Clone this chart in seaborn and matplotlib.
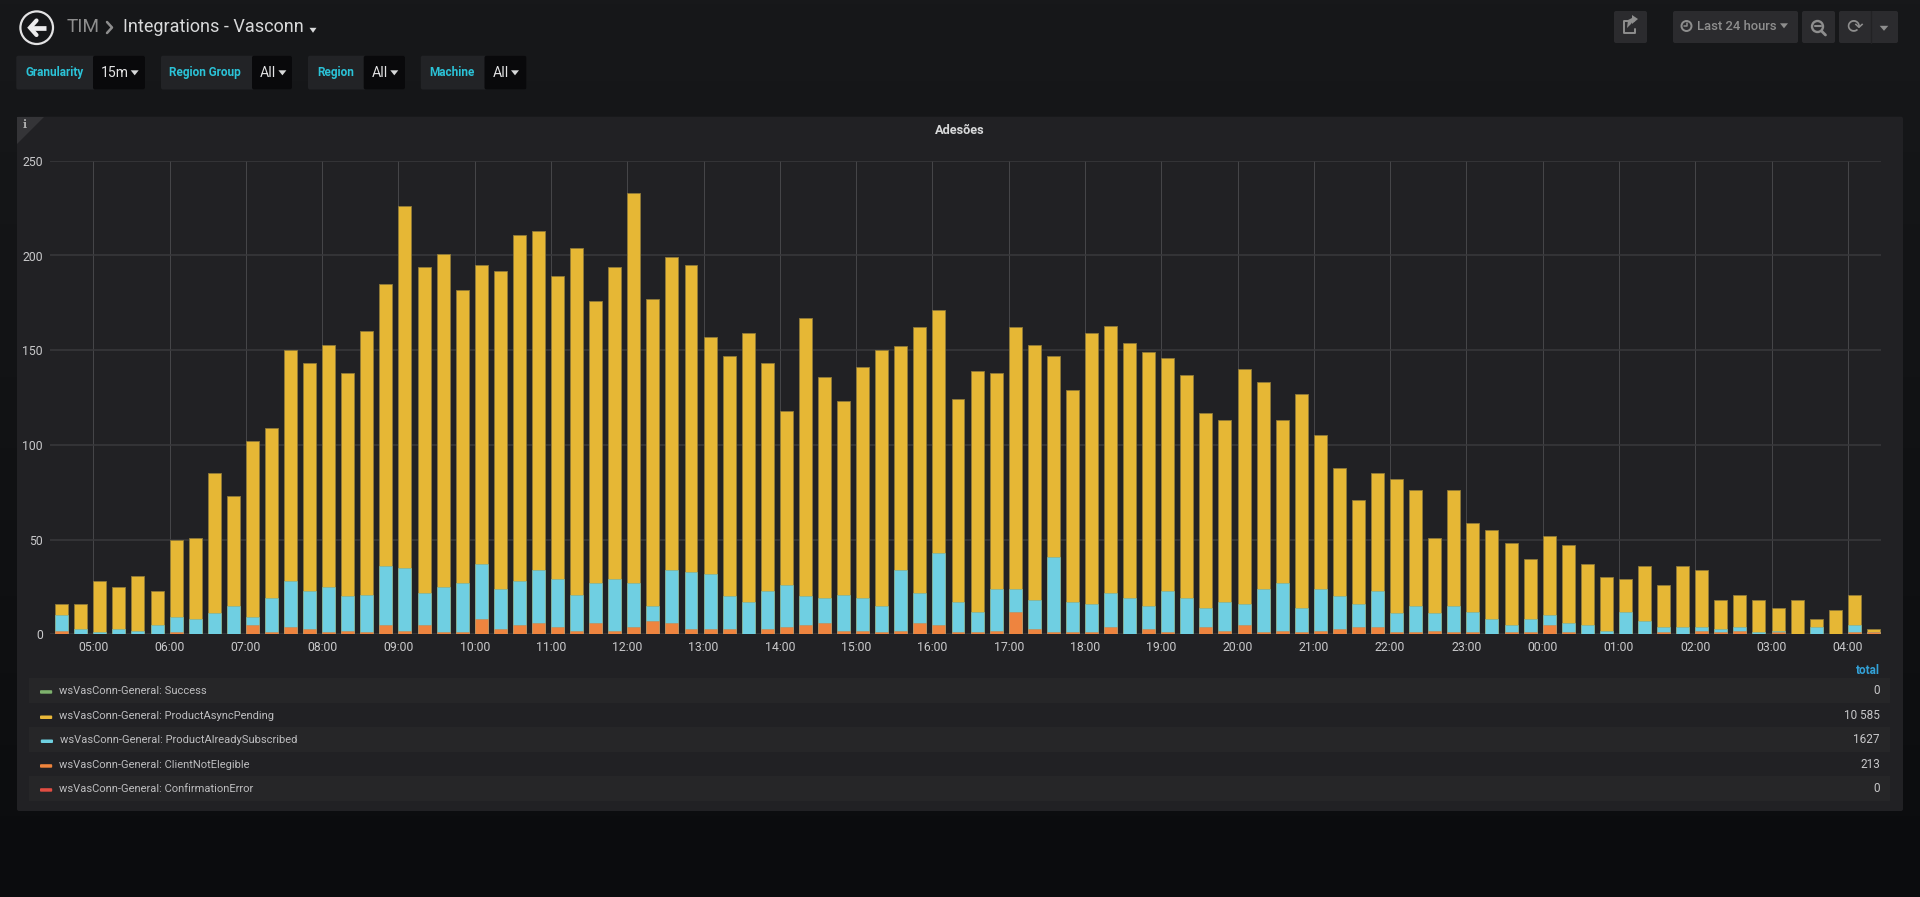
import numpy as np
import pandas as pd
import seaborn as sns
import matplotlib
matplotlib.use('Agg')
import matplotlib.pyplot as plt
from matplotlib.patches import Circle, FancyBboxPatch, Polygon, Rectangle

# Hauteurs (haut de chaque couche de la pile), toutes les 15 min
total_top = [16, 16, 28, 25, 31, 23, 50, 51, 85, 73, 102, 109, 150, 143, 153, 138,
             160, 185, 226, 194, 201, 182, 195, 192, 211, 213, 189, 204, 176, 194, 233, 177,
             199, 195, 157, 147, 159, 143, 118, 167, 136, 123, 141, 150, 152, 162, 171, 124,
             139, 138, 162, 153, 147, 129, 159, 163, 154, 149, 146, 137, 117, 113, 140, 133,
             113, 127, 105, 88, 71, 85, 82, 76, 51, 76, 59, 55, 48, 40, 52, 47,
             37, 30, 29, 36, 26, 36, 34, 18, 21, 18, 14, 18, 8, 13, 21, 3]
subscribed_top = [10, 3, 1, 3, 2, 5, 9, 8, 11, 15, 9, 19, 28, 23, 25, 20,
                  21, 36, 35, 22, 25, 27, 37, 24, 28, 34, 29, 21, 27, 29, 27, 15,
                  34, 33, 32, 20, 17, 23, 26, 20, 19, 21, 19, 15, 34, 22, 43, 17,
                  12, 24, 24, 18, 41, 17, 16, 22, 19, 15, 23, 19, 14, 17, 16, 24,
                  27, 14, 24, 20, 16, 23, 11, 15, 11, 15, 12, 8, 5, 8, 10, 6,
                  5, 2, 12, 7, 4, 4, 4, 3, 4, 1, 2, 0, 4, 0, 5, 1]
not_eligible = [2, 0, 0, 0, 0, 0, 1, 0, 0, 0, 5, 1, 4, 3, 1, 2,
                1, 5, 2, 5, 1, 1, 8, 3, 5, 6, 4, 2, 6, 2, 4, 7,
                6, 3, 3, 3, 0, 3, 4, 5, 6, 2, 2, 1, 2, 6, 5, 1,
                1, 2, 12, 3, 1, 1, 1, 4, 0, 3, 1, 0, 4, 2, 5, 1,
                2, 1, 2, 3, 4, 4, 1, 1, 2, 1, 1, 0, 1, 1, 5, 1,
                0, 0, 0, 0, 1, 0, 2, 1, 2, 0, 1, 0, 0, 0, 1, 1]

hour_labels = ['05:00', '06:00', '07:00', '08:00', '09:00', '10:00', '11:00', '12:00',
               '13:00', '14:00', '15:00', '16:00', '17:00', '18:00', '19:00', '20:00',
               '21:00', '22:00', '23:00', '00:00', '01:00', '02:00', '03:00', '04:00']
y_ticks = [0, 50, 100, 150, 200, 250]

legend_names = ['wsVasConn-General: Success', 'wsVasConn-General: ProductAsyncPending',
                'wsVasConn-General: ProductAlreadySubscribed', 'wsVasConn-General: ClientNotElegible',
                'wsVasConn-General: ConfirmationError']
legend_totals = ['0', '10 585', '1627', '213', '0']
legend_colors = ['#7EB26D', '#EAB839', '#6ED0E0', '#EF843C', '#E24D42']

W, H = 1920, 897
PANEL = '#212124'
FONT = 'Roboto'

df = pd.DataFrame({'slot': np.arange(len(total_top)), 'total': total_top,
                   'subscribed': subscribed_top, 'eligible': not_eligible})

sns.set_theme(style='dark')
plt.rcParams['font.family'] = [FONT, 'DejaVu Sans']

fig = plt.figure(figsize=(W / 100, H / 100), dpi=100)

# Couche interface en coordonnées pixel
ui = fig.add_axes([0, 0, 1, 1], zorder=0)
ui.set_xlim(0, W)
ui.set_ylim(H, 0)
ui.axis('off')
ui.imshow(np.linspace(0, 1, 200).reshape(-1, 1), extent=(0, W, H, 0), aspect='auto',
          cmap=matplotlib.colors.LinearSegmentedColormap.from_list('bg', ['#17181a', '#0b0c0e']))


def box(x0, y0, x1, y1, color, rad=2):
    ui.add_patch(FancyBboxPatch((x0 + rad, y0 + rad), x1 - x0 - 2 * rad, y1 - y0 - 2 * rad,
                                boxstyle=f'round,pad={rad},rounding_size={rad}',
                                fc=color, ec='none'))


def caret(x, y, w=4.5, color='#d8d9da'):
    ui.add_patch(Polygon([(x - w, y - 2.2), (x + w, y - 2.2), (x, y + 2.8)], fc=color, ec='none'))


def label(x, y, s, size, color, **kw):
    kw.setdefault('va', 'center')
    ui.text(x, y, s, fontsize=size * 0.72, color=color, **kw)


# En-tête
ui.add_patch(Circle((36.7, 27.7), 16.3, fc='none', ec='#e3e3e4', lw=1.6))
ui.plot([46, 32], [27.7, 27.7], color='#ececed', lw=3.4, solid_capstyle='butt')
ui.plot([36.5, 30, 36.5], [20.5, 27.7, 35], color='#ececed', lw=3, solid_joinstyle='miter')
label(67, 27, 'TIM', 19, '#8e8e8e')
ui.plot([107, 112, 107], [22, 27.5, 33], color='#8e8e8e', lw=1.8)
label(123, 27, 'Integrations - Vasconn', 18, '#d8d9da')
caret(313, 30, 3.5)

# Variables
variables = [('Granularity', '15m', 16.3, 93, 145, 25, 101, 134.7),
             ('Region Group', 'All', 161, 252, 292, 169.4, 259.6, 282.4),
             ('Region', 'All', 308, 363.7, 405, 317.6, 371.8, 394.3),
             ('Machine', 'All', 420.8, 484.5, 526.5, 429.4, 493, 515)]
for name, val, x0, xm, x1, xl, xv, xc in variables:
    box(x0, 55.7, x1, 89.5, '#222326')
    box(xm, 55.7, x1, 89.5, '#09090b')
    label(xl, 72.5, name, 11.8, '#2bc3d8', weight='bold')
    label(xv, 73, val, 14, '#e3e3e4')
    caret(xc, 72.5, 4)

# Boutons à droite
for x0, x1 in [(1614, 1647), (1673, 1798), (1802, 1835), (1839, 1898)]:
    box(x0, 11, x1, 43, '#2b2b2e')
ui.plot([1871, 1871], [11, 43], color='#222224', lw=1)
ui.plot([1634, 1624, 1624, 1635, 1635], [21.5, 21.5, 33.5, 33.5, 29], color='#8e8e8e', lw=1.4)
ui.add_patch(Polygon([(1638, 19), (1632, 15), (1632, 18), (1628, 20), (1627, 28), (1631, 24),
                      (1632, 22.5), (1632, 24)], fc='#8e8e8e', ec='none'))
ui.add_patch(Circle((1686.5, 26), 5, fc='none', ec='#8e8e8e', lw=1.4))
ui.plot([1686.5, 1686.5, 1683.5], [23, 26.5, 26.5], color='#8e8e8e', lw=1.1)
label(1696.7, 26.5, 'Last 24 hours', 13, '#8e8e8e', weight='medium')
caret(1784, 25.5, 4, '#8e8e8e')
ui.add_patch(Circle((1817.5, 26.5), 5.5, fc='none', ec='#8e8e8e', lw=1.7))
ui.plot([1814.5, 1820.5], [26.5, 26.5], color='#8e8e8e', lw=1.5)
ui.plot([1821.5, 1825.5], [31, 35], color='#8e8e8e', lw=2)
label(1855, 26.5, '⟳', 20, '#8e8e8e', ha='center', family='DejaVu Sans')
caret(1884, 28, 4.3, '#8e8e8e')

# Panneau
box(17, 116.7, 1903, 811, PANEL)
ui.add_patch(Polygon([(17, 117), (44, 117), (17, 144)], fc='#343437', ec='none'))
label(24.5, 125, 'i', 11, '#b0b0b0', ha='center', family='DejaVu Serif', weight='bold')
label(960, 130, 'Adesões', 12.8, '#d8d9da', ha='center', weight='bold')

# Légende
row_centers = [690, 715.3, 739.3, 764, 788]
for i, y in enumerate(row_centers):
    if i % 2 == 0:
        ui.add_patch(Rectangle((29.4, y - 12), 1860.6, 24.7, fc='#262628', ec='none'))
    dx = 0.8 if i == 2 else 0
    ui.add_patch(FancyBboxPatch((40 + dx + 1, y + 1.2), 10.2, 1.5, boxstyle='round,pad=1',
                                fc=legend_colors[i], ec='none'))
    label(59.2 + dx, y + 0.8, legend_names[i], 11.1, '#bdbdbf')
    label(1880, y + 0.5, legend_totals[i], 11.8, '#c8c8ca', ha='right')
label(1880, 670.5, 'total', 11.8, '#33a2d8', ha='right', weight='bold')

# Graphique : barres empilées, couche par couche
left, right, top, bottom = 50, 1881, 160.8, 634.3
ax = fig.add_axes([left / W, 1 - bottom / H, (right - left) / W, (bottom - top) / H], zorder=1)
ax.patch.set_visible(False)
sns.barplot(data=df, x='slot', y='total', native_scale=True, width=0.68, color='#E6B735',
            saturation=1, edgecolor='#8f7a38', linewidth=0.6, ax=ax, zorder=3)
sns.barplot(data=df, x='slot', y='subscribed', native_scale=True, width=0.68, color='#6FCFE2',
            saturation=1, edgecolor='#7fb39c', linewidth=0.5, ax=ax, zorder=4)
sns.barplot(data=df, x='slot', y='eligible', native_scale=True, width=0.68, color='#EE843F',
            saturation=1, edgecolor='#c58a52', linewidth=0.4, ax=ax, zorder=5)

ax.set_xlim(-0.613, 95.4)
ax.set_ylim(0, 250)
ax.set_xticks([1.66 + 4 * k for k in range(len(hour_labels))], hour_labels)
ax.set_yticks(y_ticks)
ax.set_xlabel('')
ax.set_ylabel('')
ax.tick_params(axis='both', length=0, labelsize=8.8, labelcolor='#c9c9cb', pad=5)
for t in ax.get_xticklabels() + ax.get_yticklabels():
    t.set_family(FONT)
ax.grid(axis='y', color='#39393c', lw=1.1, zorder=1)
ax.grid(axis='x', color='#505053', lw=0.55, zorder=1)
ax.set_axisbelow(True)
for side in ax.spines.values():
    side.set_visible(False)

fig.savefig('out.png', dpi=100, facecolor='#161719')
